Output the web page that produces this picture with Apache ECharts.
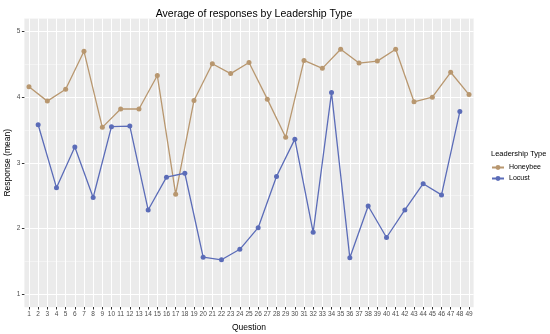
<!DOCTYPE html>
<html>
<head>
<meta charset="utf-8">
<script src="https://cdn.jsdelivr.net/npm/echarts@6/dist/echarts.min.js"></script>
<style>
html,body{margin:0;padding:0;background:#fff;}
#chart{width:550px;height:334px;}
</style>
</head>
<body>
<div id="chart"></div>
<script>
var questions = [];
for (var q = 1; q <= 49; q++) questions.push(String(q));

var honeybeeQuestions = [1,3,5,7,9,11,13,15,17,19,21,23,25,27,29,31,33,35,37,39,41,43,45,47,49];
var honeybeeValues = [4.16,3.94,4.12,4.70,3.54,3.82,3.82,4.33,2.52,3.95,4.51,4.36,4.53,3.97,3.39,4.56,4.44,4.73,4.52,4.55,4.73,3.93,4.00,4.38,4.04];

var locustQuestions = [2,4,6,8,10,12,14,16,18,20,22,24,26,28,30,32,34,36,38,40,42,44,46,48];
var locustValues = [3.58,2.62,3.24,2.47,3.55,3.56,2.28,2.78,2.84,1.56,1.52,1.68,2.01,2.79,3.36,1.94,4.07,1.55,2.34,1.86,2.28,2.68,2.51,3.78];

var yTicks = [1,2,3,4,5];
var yMin = 0.8, yMax = 5.2;
var minorOffset = 0.5; // minor grid lines halfway between labelled ticks

function toSeries(qs, vals) {
  var arr = questions.map(function(){ return null; });
  qs.forEach(function(qq, i){ arr[qq-1] = vals[i]; });
  return arr;
}

var FONT = '"Liberation Sans", Arial, sans-serif';
var chart = echarts.init(document.getElementById('chart'), null, {renderer:'canvas'});
chart.setOption({
  animation: false,
  backgroundColor: '#ffffff',
  title: [
    {text: 'Average of responses by Leadership Type', left: 249, top: 4, textAlign: 'center',
     textStyle: {fontFamily: FONT, fontSize: 10.5, fontWeight: 'normal', color: '#000'}},
    {text: 'Leadership Type', left: 486, top: 145,
     textStyle: {fontFamily: FONT, fontSize: 7.5, fontWeight: 'normal', color: '#000'}}
  ],
  grid: {left: 24.4, right: 76.4, top: 18.5, bottom: 27, show: true, backgroundColor: '#ebebeb', borderWidth: 0,
         containLabel: false, outerBoundsMode: 'none'},
  legend: {
    orient: 'vertical', left: 486, top: 159, itemWidth: 12, itemHeight: 6, itemGap: 4,
    textStyle: {fontFamily: FONT, fontSize: 7, color: '#000'},
    data: ['Honeybee', 'Locust']
  },
  xAxis: {
    type: 'category', data: questions, boundaryGap: true,
    name: 'Question', nameLocation: 'middle', nameGap: 16, nameMoveOverlap: false,
    nameTextStyle: {fontFamily: FONT, fontSize: 8.5, color: '#000'},
    axisLine: {show: false},
    axisTick: {show: true, alignWithLabel: true, length: 2.5, lineStyle: {color: '#333'}},
    axisLabel: {interval: 0, fontFamily: FONT, fontSize: 6.5, color: '#4d4d4d', margin: 4},
    splitLine: {show: true, alignWithLabel: true, interval: 0, lineStyle: {color: '#ffffff', width: 1}}
  },
  yAxis: [{
    type: 'value', min: yMin - minorOffset, max: yMax - minorOffset, position: 'left',
    axisLine: {show: false}, axisTick: {show: false}, axisLabel: {show: false},
    splitLine: {show: true, lineStyle: {color: '#f8f8f8', width: 0.6}}
  }, {
    type: 'value', min: yMin, max: yMax, position: 'left',
    name: 'Response (mean)', nameLocation: 'middle', nameGap: 12, nameRotate: 90, nameMoveOverlap: false,
    nameTextStyle: {fontFamily: FONT, fontSize: 8.5, color: '#000'},
    axisLine: {show: false},
    axisTick: {show: true, length: 2.5, lineStyle: {color: '#333'}, customValues: yTicks},
    axisLabel: {fontFamily: FONT, fontSize: 6.5, color: '#4d4d4d', margin: 4, customValues: yTicks},
    splitLine: {show: true, lineStyle: {color: '#ffffff', width: 1}}
  }],
  series: [
    {name: 'Honeybee', type: 'line', yAxisIndex: 1, data: toSeries(honeybeeQuestions, honeybeeValues), connectNulls: true,
     symbol: 'circle', symbolSize: 5, itemStyle: {color: '#b8976f'}, lineStyle: {color: '#b8976f', width: 1.3}},
    {name: 'Locust', type: 'line', yAxisIndex: 1, data: toSeries(locustQuestions, locustValues), connectNulls: true,
     symbol: 'circle', symbolSize: 5, itemStyle: {color: '#5b6cb8'}, lineStyle: {color: '#5b6cb8', width: 1.3}}
  ]
});
</script>
</body>
</html>
